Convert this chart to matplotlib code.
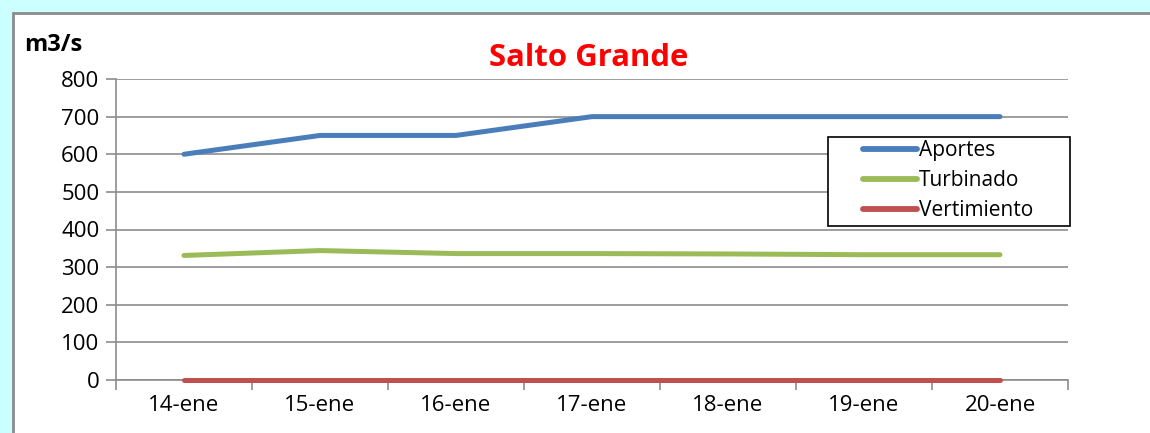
import matplotlib.pyplot as plt
from matplotlib.patches import Rectangle

plt.rcParams['font.family'] = ['Open Sans', 'DejaVu Sans']

dias = ['14-ene', '15-ene', '16-ene', '17-ene', '18-ene', '19-ene', '20-ene']
aportes = [600, 650, 650, 700, 700, 700, 700]
turbinado = [331, 344, 336, 336, 335, 333, 333]
vertimiento = [0, 0, 0, 0, 0, 0, 0]

fig = plt.figure(figsize=(11.5, 4.33), dpi=100, facecolor='#CCFFFF')
# white chart area with gray border
fig.patches.append(Rectangle((13 / 1150, -0.1), 1.1, 1 - 13 / 433 + 0.1,
                             transform=fig.transFigure, facecolor='white',
                             edgecolor='#8C8C8C', linewidth=2, zorder=-5))

ax = fig.add_axes([116 / 1150, 1 - 380 / 433, 952 / 1150, 301 / 433])
ax.set_facecolor('none')

x = range(len(dias))
ax.plot(x, aportes, color='#4A7EBB', lw=3.6, solid_capstyle='round', label='Aportes', zorder=3, clip_on=False)
ax.plot(x, turbinado, color='#9BBB59', lw=3.6, solid_capstyle='round', label='Turbinado', zorder=3, clip_on=False)
ax.plot(x, vertimiento, color='#C0504D', lw=3.6, solid_capstyle='round', label='Vertimiento', zorder=3, clip_on=False)

ax.set_xlim(-0.5, 6.5)
ax.set_ylim(0, 800)
ax.set_yticks(range(0, 801, 100))
ax.set_xticks(list(x))
ax.set_xticklabels(dias)
ax.set_xticks([i - 0.5 for i in range(8)], minor=True)
ax.tick_params(axis='x', which='major', length=0, labelsize=16, pad=11)
ax.tick_params(axis='x', which='minor', length=7, color='#8C8C8C', width=1.2)
ax.tick_params(axis='y', length=7, color='#8C8C8C', width=1.2, labelsize=16, pad=5)
ax.grid(axis='y', color='#8C8C8C', lw=1.2)
ax.set_axisbelow(True)

for s in ['top', 'right']:
    ax.spines[s].set_visible(False)
for s in ['left', 'bottom']:
    ax.spines[s].set_color('#8C8C8C')
    ax.spines[s].set_linewidth(1.2)

fig.text(589 / 1150, 1 - 58 / 433, 'Salto Grande', color='#FF0000', fontsize=22.4,
         fontweight='bold', ha='center', va='center')
fig.text(24 / 1150, 1 - 45 / 433, 'm3/s', fontsize=17, fontweight='bold',
         ha='left', va='center')

# legend frame drawn separately (wider than its content)
ax.add_patch(Rectangle((0.748, 0.512), 0.254, 0.295, transform=ax.transAxes,
                       facecolor='white', edgecolor='black', lw=1.2,
                       clip_on=False, zorder=4))
leg = ax.legend(loc='center', bbox_to_anchor=(0.874, 0.662), fontsize=15,
                frameon=False, handlelength=2.6, handletextpad=0.1,
                labelspacing=0.42, borderpad=0, borderaxespad=0)
for h in leg.get_lines():
    h.set_linewidth(4.2)
leg.set_zorder(5)

fig.savefig('out.png', dpi=100, facecolor=fig.get_facecolor())
